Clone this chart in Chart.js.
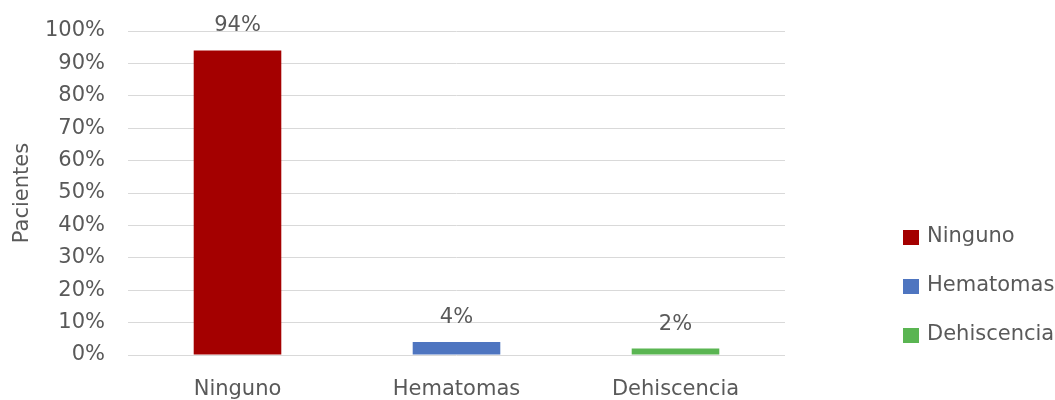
<!DOCTYPE html>
<html>
<head>
<meta charset="utf-8">
<script src="https://cdn.jsdelivr.net/npm/chart.js@4"></script>
<style>
  html, body { margin: 0; padding: 0; background: #fff; }
  #wrap { width: 1055px; height: 400px; }
</style>
</head>
<body>
<div id="wrap"><canvas id="chart"></canvas></div>
<script>
const categories = ["Ninguno", "Hematomas", "Dehiscencia"];
const values = [94, 4, 2];
const colors = ["#A40000", "#4E75C0", "#5AB552"];
const yTicks = [0, 10, 20, 30, 40, 50, 60, 70, 80, 90, 100];

const textColor = "#595959";
const fontFamily = "'DejaVu Sans', sans-serif";

// value labels above bars
const barLabels = {
  id: "barLabels",
  afterDatasetsDraw(chart) {
    const ctx = chart.ctx;
    const meta = chart.getDatasetMeta(0);
    ctx.save();
    ctx.fillStyle = textColor;
    ctx.font = "21px " + fontFamily;
    ctx.textAlign = "center";
    ctx.textBaseline = "alphabetic";
    meta.data.forEach((bar, i) => {
      ctx.fillText(values[i] + "%", bar.x, bar.y - 19);
    });
    ctx.restore();
  }
};

// legend on the right, one entry per category
const sideLegend = {
  id: "sideLegend",
  afterDraw(chart) {
    const ctx = chart.ctx;
    const x = chart.chartArea.right + 118;
    const y0 = 237;
    const gap = 49;
    ctx.save();
    ctx.font = "21px " + fontFamily;
    ctx.textBaseline = "middle";
    ctx.textAlign = "left";
    categories.forEach((c, i) => {
      const y = y0 + i * gap;
      ctx.fillStyle = colors[i];
      ctx.fillRect(x, y - 7, 16, 15);
      ctx.fillStyle = textColor;
      ctx.fillText(c, x + 24, y);
    });
    ctx.restore();
  }
};

new Chart(document.getElementById("chart"), {
  type: "bar",
  data: {
    labels: categories,
    datasets: [{
      data: values,
      backgroundColor: colors,
      borderWidth: 0,
      barPercentage: 0.4,
      categoryPercentage: 1
    }]
  },
  options: {
    responsive: true,
    maintainAspectRatio: false,
    animation: false,
    layout: { padding: { top: 31, right: 270, bottom: 0, left: 0 } },
    plugins: {
      legend: { display: false },
      tooltip: { enabled: false }
    },
    scales: {
      x: {
        grid: { display: false },
        border: { display: false },
        ticks: {
          color: textColor,
          font: { family: fontFamily, size: 21 },
          padding: 14
        },
        afterFit(scale) { scale.height = 45; }
      },
      y: {
        min: 0,
        max: 100,
        afterBuildTicks(scale) { scale.ticks = yTicks.map(v => ({ value: v })); },
        grid: { color: "#d9d9d9", drawTicks: false },
        border: { display: false },
        ticks: {
          color: textColor,
          font: { family: fontFamily, size: 21 },
          padding: 23,
          callback: v => v + "%"
        },
        title: {
          display: true,
          text: "Pacientes",
          color: textColor,
          font: { family: fontFamily, size: 21 },
          padding: { top: 10, bottom: 0 }
        },
        afterFit(scale) {
          scale.width = 128;
          scale.paddingTop = 0;
          scale.paddingBottom = 0;
        }
      }
    }
  },
  plugins: [barLabels, sideLegend]
});
</script>
</body>
</html>
